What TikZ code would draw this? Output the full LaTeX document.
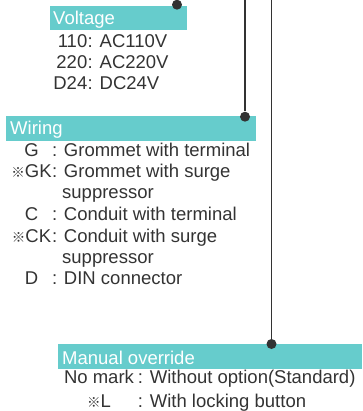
\documentclass[tikz,border=0pt]{standalone}
\usepackage{fontspec}
\setmainfont{Liberation Sans}
\newfontfamily\cjk{Noto Sans CJK JP}
\usetikzlibrary{positioning}
\definecolor{barteal}{HTML}{66CCCC}
\definecolor{inkgray}{HTML}{333333}
\newcommand{\refmark}{{\cjk\fontsize{13.5}{13.5}\selectfont ※}}
\tikzset{
  bar/.style={fill=barteal, inner sep=0, anchor=north west},
  title/.style={anchor=base west, inner sep=0, text=white},
  code/.style={anchor=base, inner sep=0, text=inkgray},
  desc/.style={anchor=base west, inner sep=0, text=inkgray},
  lead/.style={draw=inkgray, line width=1.5pt},
  dot/.style={circle, fill=inkgray, inner sep=0, minimum size=10pt},
}

\begin{document}
\begin{tikzpicture}[x=1pt, y=-1pt, font=\fontsize{18.5}{21}\selectfont]
\useasboundingbox (0,0) rectangle (362,411);

% === TOP: Voltage ===
\node[bar, minimum width=137pt, minimum height=24pt] (voltbar) at (50,6) {};
\node[title] (volttitle) at (53,24.3) {Voltage};
\node[dot] (voltdot) at (177,4.7) {};
\node[code, anchor=base east] (v110) at (87.5,48) {110};
\node[desc] (v110d) at (87.5,48) {: AC110V};
\node[code, anchor=base east] (v220) at (87.5,68.5) {220};
\node[desc] (v220d) at (87.5,68.5) {: AC220V};
\node[code, anchor=base east] (vd24) at (87.5,89.5) {D24};
\node[desc] (vd24d) at (87.5,89.5) {: DC24V};

% === MIDDLE: Wiring ===
\node[bar, minimum width=250pt, minimum height=25pt] (wirebar) at (6,116) {};
\node[title] (wiretitle) at (10,135) {Wiring};
\coordinate (wiretop) at (245,0);
\node[dot] (wiredot) at (245,116.7) {};
\draw[lead] (wiretop) -- (wiredot);
\node[code] (wg) at (31.5,157) {G};
\node[desc] (wgd) at (51.8,157) {: Grommet with terminal};
\node[code] (wgk) at (31.5,178) {\refmark GK};
\node[desc] (wgkd) at (51.8,178) {: Grommet with surge};
\node[desc] (wgkd2) at (62,199) {suppressor};
\node[code] (wc) at (31.5,220.5) {C};
\node[desc] (wcd) at (51.8,220.5) {: Conduit with terminal};
\node[code] (wck) at (31.5,242) {\refmark CK};
\node[desc] (wckd) at (51.8,242) {: Conduit with surge};
\node[desc] (wckd2) at (62,263) {suppressor};
\node[code] (wd) at (31.5,284.3) {D};
\node[desc] (wdd) at (51.8,284.3) {: DIN connector};

% === BOTTOM: Manual override ===
\node[bar, minimum width=304pt, minimum height=25pt] (manbar) at (58,344) {};
\node[title] (mantitle) at (62,364) {Manual override};
\coordinate (mantop) at (271.5,0);
\node[dot] (mandot) at (271.5,344) {};
\draw[lead] (mantop) -- (mandot);
\node[code] (mno) at (99,383.4) {No mark};
\node[desc] (mnod) at (137.6,383.4) {: Without option(Standard)};
\node[code] (ml) at (99,407.7) {\refmark L};
\node[desc] (mld) at (137.6,407.7) {: With locking button};

\end{tikzpicture}
\end{document}
